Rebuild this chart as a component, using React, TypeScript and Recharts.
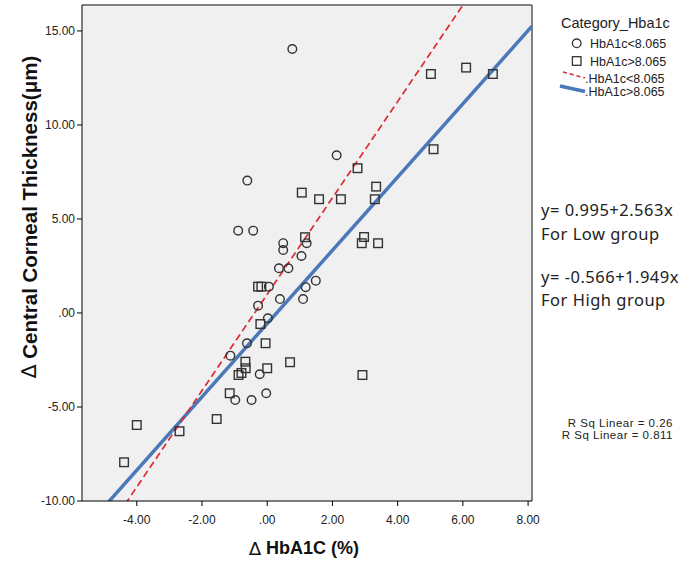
import {
  ComposedChart,
  Scatter,
  Line,
  XAxis,
  YAxis,
  CartesianGrid,
  ReferenceLine,
  Legend,
} from "recharts";

// axis ranges (SPSS-style frame)
const X_MIN = -5.68;
const X_MAX = 8.12;
const Y_MIN = -10;
const Y_MAX = 16.38;
const xTicks = [-4, -2, 0, 2, 4, 6, 8];
const yTicks = [-10, -5, 0, 5, 10, 15];

// HbA1c < 8.065 (circles)
const lowX = [
  0.77, 2.13, -0.61, -0.89, -0.43, 1.21, 0.49, 0.49, 1.05, 0.36, 0.65, 1.49,
  0.05, 1.18, 0.39, 1.1, -0.28, 0.02, -0.62, -1.13, -0.23, -0.98, -0.48, -0.03,
];
const lowY = [
  14.04, 8.39, 7.04, 4.38, 4.38, 3.71, 3.71, 3.35, 3.03, 2.38, 2.38, 1.72,
  1.4, 1.37, 0.74, 0.74, 0.39, -0.28, -1.61, -2.27, -3.26, -4.63, -4.63, -4.27,
];

// HbA1c > 8.065 (squares)
const highX = [
  5.02, 6.1, 6.92, 5.1, 2.77, 1.06, 1.59, 2.26, 3.34, 3.3, 1.16, 2.97, 2.9, 3.4,
  -0.28, -0.18, -0.21, -0.05, -0.67, 0.7, -0.66, 0.0, -0.88, -0.79, 2.92, -1.15,
  -1.55, -4.0, -2.69, -4.39,
];
const highY = [
  12.71, 13.05, 12.71, 8.71, 7.7, 6.4, 6.05, 6.05, 6.72, 6.05, 4.03, 4.04, 3.71,
  3.71, 1.4, 1.4, -0.59, -1.61, -2.59, -2.62, -2.94, -2.94, -3.3, -3.19, -3.3,
  -4.27, -5.64, -5.96, -6.29, -7.94,
];

// fit lines as printed on the chart
const LOW_FIT = { a: 0.995, b: 2.563 };
const HIGH_FIT = { a: -0.566, b: 1.949 };

const lowData = lowX.map((x, i) => ({ x, y: lowY[i] }));
const highData = highX.map((x, i) => ({ x, y: highY[i] }));
const lowLine = [X_MIN, X_MAX].map((x) => ({ x, y: LOW_FIT.a + LOW_FIT.b * x }));
const highLine = [X_MIN, X_MAX].map((x) => ({ x, y: HIGH_FIT.a + HIGH_FIT.b * x }));

const MARK = "#333";
const RED = "#dd2a35";
const BLUE = "#4a78b8";
const AXIS_FONT = "'Liberation Sans', Arial, sans-serif";

const fmt = (v: number) => (v === 0 ? ".00" : v.toFixed(2));

const CircleMark = (p: any) => (
  <circle cx={p.cx} cy={p.cy} r={4.3} fill="none" stroke={MARK} strokeWidth={1.4} />
);
const SquareMark = (p: any) => (
  <rect
    x={p.cx - 4.3}
    y={p.cy - 4.3}
    width={8.6}
    height={8.6}
    fill="none"
    stroke={MARK}
    strokeWidth={1.4}
  />
);

function LegendBox() {
  return (
    <svg width={129} height={100} style={{ fontFamily: AXIS_FONT }}>
      <text x={11} y={27.5} fontSize={14.5} fill="#222">
        Category_Hba1c
      </text>
      <circle cx={26.7} cy={43.3} r={4.3} fill="none" stroke={MARK} strokeWidth={1.3} />
      <text x={40} y={47.5} fontSize={12.5} fill="#222">
        HbA1c&lt;8.065
      </text>
      <rect x={22.4} y={56.7} width={8.6} height={8.6} fill="none" stroke={MARK} strokeWidth={1.3} />
      <text x={40} y={65.5} fontSize={12.5} fill="#222">
        HbA1c&gt;8.065
      </text>
      <line x1={13} y1={72} x2={35} y2={78} stroke={RED} strokeWidth={1.6} strokeDasharray="4 3" />
      <text x={35} y={82.5} fontSize={12.5} fill="#222">
        .HbA1c&lt;8.065
      </text>
      <line x1={10} y1={86} x2={35} y2={91.5} stroke={BLUE} strokeWidth={3.5} />
      <text x={35} y={96} fontSize={12.5} fill="#222">
        .HbA1c&gt;8.065
      </text>
    </svg>
  );
}

export default function App() {
  return (
    <div style={{ position: "absolute", left: 0, top: 0, width: 679, height: 568, background: "#fff" }}>
      <ComposedChart
        width={679}
        height={568}
        margin={{ top: 5, right: 147, bottom: 0, left: 0 }}
      >
        <CartesianGrid fill="#f0f0f0" stroke="none" horizontal={false} vertical={false} />
        <XAxis
          type="number"
          dataKey="x"
          domain={[X_MIN, X_MAX]}
          ticks={xTicks}
          interval={0}
          allowDataOverflow
          height={67}
          tickSize={5}
          tickMargin={9}
          tickFormatter={fmt}
          stroke="#000"
          tick={{ fill: "#222", fontSize: 12, fontFamily: AXIS_FONT }}
        />
        <YAxis
          type="number"
          dataKey="y"
          domain={[Y_MIN, Y_MAX]}
          ticks={yTicks}
          interval={0}
          allowDataOverflow
          width={82}
          tickSize={5}
          tickMargin={2}
          tickFormatter={fmt}
          stroke="#000"
          tick={{ fill: "#222", fontSize: 12, fontFamily: AXIS_FONT }}
        />
        <ReferenceLine y={Y_MAX} stroke="#808080" strokeWidth={2} />
        <ReferenceLine x={X_MAX} stroke="#808080" strokeWidth={2} />
        <Line
          data={highLine}
          dataKey="y"
          type="linear"
          stroke={BLUE}
          strokeWidth={3.5}
          dot={false}
          activeDot={false}
          isAnimationActive={false}
          legendType="none"
        />
        <Line
          data={lowLine}
          dataKey="y"
          type="linear"
          stroke={RED}
          strokeWidth={1.7}
          strokeDasharray="7 4"
          dot={false}
          activeDot={false}
          isAnimationActive={false}
          legendType="none"
        />
        <Scatter data={lowData} shape={CircleMark} isAnimationActive={false} />
        <Scatter data={highData} shape={SquareMark} isAnimationActive={false} />
        <Legend
          layout="vertical"
          align="center"
          verticalAlign="middle"
          content={() => <LegendBox />}
          wrapperStyle={{ position: "absolute", left: 550, top: 0, width: 129, height: 100 }}
        />
      </ComposedChart>
      <svg
        width={679}
        height={568}
        style={{ position: "absolute", left: 0, top: 0, pointerEvents: "none" }}
      >
        <text
          transform="translate(29,217) rotate(-90)"
          textAnchor="middle"
          dominantBaseline="central"
          fontFamily={AXIS_FONT}
          fontWeight="bold"
          fontSize={20.5}
          fill="#111"
        >
          <tspan fontWeight="normal" fontFamily="'DejaVu Sans'">∆</tspan> Central Corneal Thickness(μm)
        </text>
        <text
          x={304}
          y={548}
          textAnchor="middle"
          dominantBaseline="central"
          fontFamily={AXIS_FONT}
          fontWeight="bold"
          fontSize={18}
          fill="#111"
        >
          <tspan fontWeight="normal" fontFamily="'DejaVu Sans'">∆</tspan> HbA1C (%)
        </text>
        <g fontFamily="'Noto Sans', sans-serif" fontSize={16.5} letterSpacing={0.5} fill="#222">
          <text x={541} y={209} dominantBaseline="central">y= 0.995+2.563x</text>
          <text x={541} y={233} dominantBaseline="central">For Low group</text>
          <text x={541} y={276} dominantBaseline="central">y= -0.566+1.949x</text>
          <text x={541} y={299} dominantBaseline="central">For High group</text>
        </g>
        <g fontFamily={AXIS_FONT} fontSize={11.5} letterSpacing={0.5} fill="#222" textAnchor="end">
          <text x={673} y={423} dominantBaseline="central">R Sq Linear = 0.26</text>
          <text x={673} y={435} dominantBaseline="central">R Sq Linear = 0.811</text>
        </g>
      </svg>
    </div>
  );
}
